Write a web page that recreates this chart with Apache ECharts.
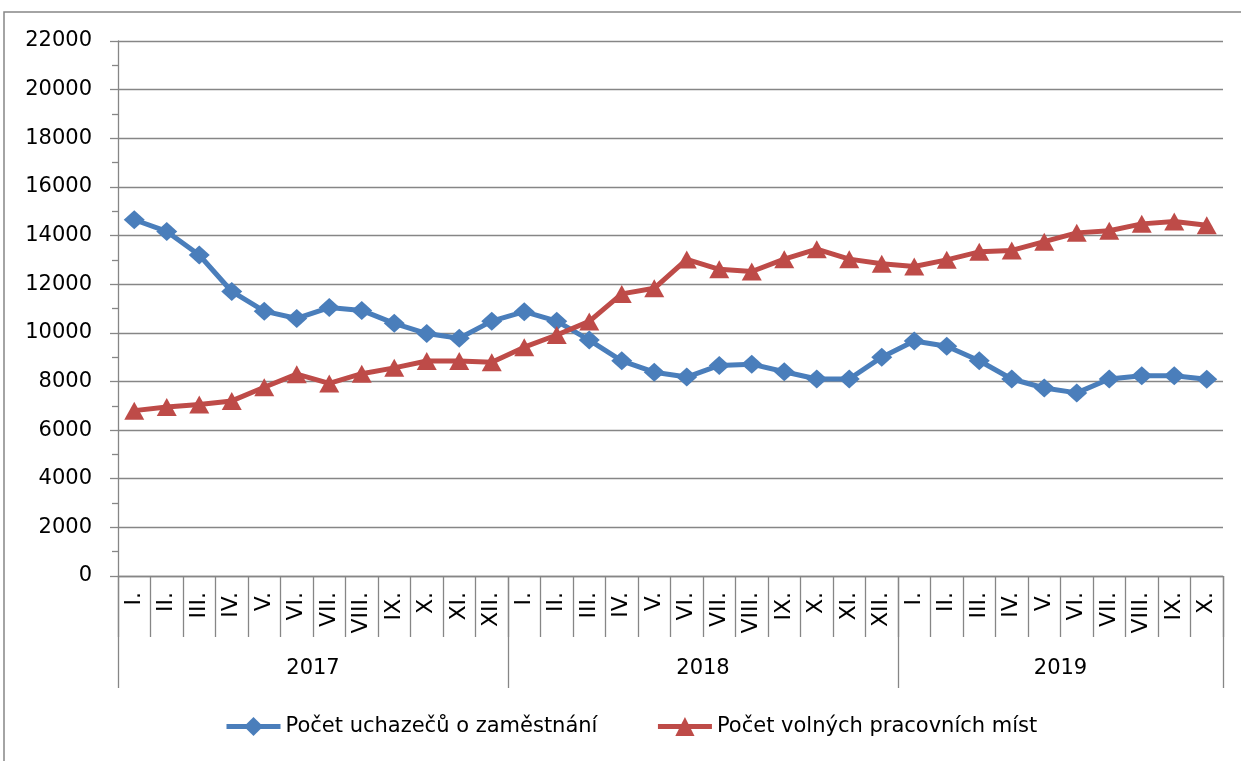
<!DOCTYPE html>
<html>
<head>
<meta charset="utf-8">
<script src="https://cdn.jsdelivr.net/npm/echarts@6/dist/echarts.min.js"></script>
<style>
  html, body { margin: 0; padding: 0; background: #fff; }
  #chart { width: 1241px; height: 761px; }
</style>
</head>
<body>
<div id="chart"></div>
<script>
// data
const years = ['2017', '2018', '2019'];
const monthsInYear = [12, 12, 10];
const romanMonths = ['I.', 'II.', 'III.', 'IV.', 'V.', 'VI.', 'VII.', 'VIII.', 'IX.', 'X.', 'XI.', 'XII.'];

const uchazeci = [
  14650, 14170, 13200, 11700, 10890, 10590, 11040, 10920, 10390, 9970, 9780, 10480,
  10870, 10480, 9700, 8850, 8380, 8180, 8660, 8710, 8400, 8100, 8100, 9000,
  9660, 9450, 8850, 8100, 7730, 7530, 8100, 8230, 8230, 8090
];
const volnaMista = [
  6800, 6950, 7050, 7200, 7760, 8300, 7920, 8320, 8560, 8840, 8840, 8790,
  9410, 9910, 10470, 11600, 11830, 13020, 12610, 12520, 13030, 13440, 13030, 12840,
  12730, 13000, 13330, 13390, 13750, 14110, 14200, 14480, 14580, 14420
];

// category list + where each year starts / its middle
let categories = [];
let yearStart = [];
let yearMid = {};
monthsInYear.forEach((n, y) => {
  yearStart.push(categories.length);
  // label sits at the boundary in the middle of the year span
  yearMid[categories.length + n / 2 - 1] = years[y];
  categories = categories.concat(romanMonths.slice(0, n));
});

const GRAY = '#868686';
const FONT = 'DejaVu Sans';

let myChart = echarts.init(document.getElementById('chart'));
let bandW = (1241 - 118 - 18) / categories.length;

let option = {
  backgroundColor: '#fff',
  animation: false,
  textStyle: { fontFamily: FONT, color: '#000' },
  graphic: [{
    type: 'rect',
    shape: { x: 4, y: 12, width: 1260, height: 800 },
    style: { fill: 'none', stroke: GRAY, lineWidth: 1.5 },
    silent: true
  }],
  grid: { left: 118, right: 18, top: 41, bottom: 185 },
  legend: {
    left: 219,
    top: 711,
    itemWidth: 54,
    itemHeight: 24,
    itemGap: 58,
    lineStyle: { width: 5 },
    textStyle: { fontFamily: FONT, fontSize: 21, color: '#000' },
    data: ['Počet uchazečů o zaměstnání', 'Počet volných pracovních míst']
  },
  xAxis: [
    {
      type: 'category',
      data: categories,
      position: 'bottom',
      boundaryGap: true,
      axisLine: { show: true, lineStyle: { color: GRAY, width: 1.3 } },
      axisTick: { show: true, interval: 0, length: 61, lineStyle: { color: GRAY, width: 1.3 } },
      axisLabel: {
        interval: 0,
        rotate: 90,
        margin: 16,
        fontFamily: FONT,
        fontSize: 22,
        color: '#000'
      }
    },
    {
      type: 'category',
      data: categories,
      position: 'bottom',
      boundaryGap: true,
      axisLine: { show: false },
      axisTick: {
        show: true,
        interval: (idx) => yearStart.indexOf(idx) >= 0,
        length: 112,
        lineStyle: { color: GRAY, width: 1.3 }
      },
      axisLabel: {
        interval: 0,
        margin: 82,
        padding: [0, 0, 0, bandW],
        fontFamily: FONT,
        fontSize: 21,
        color: '#000',
        formatter: (v, idx) => yearMid[idx] || ''
      }
    }
  ],
  yAxis: {
    type: 'value',
    min: 0,
    max: 22000,
    interval: 2000,
    axisLine: { show: true, lineStyle: { color: GRAY, width: 1.3 } },
    axisTick: { show: true, length: 8, lineStyle: { color: GRAY, width: 1.3 } },
    minorTick: { show: true, splitNumber: 2, length: 6, lineStyle: { color: GRAY, width: 1.3 } },
    splitLine: { lineStyle: { color: GRAY, width: 1.3 } },
    axisLabel: {
      margin: 26,
      fontFamily: FONT,
      fontSize: 21,
      color: '#000',
      formatter: (v) => String(v)
    }
  },
  series: [
    {
      name: 'Počet uchazečů o zaměstnání',
      type: 'line',
      xAxisIndex: 0,
      data: uchazeci,
      symbol: 'diamond',
      symbolSize: [21, 19],
      lineStyle: { color: '#4A7EBB', width: 5 },
      itemStyle: { color: '#4A7EBB' }
    },
    {
      name: 'Počet volných pracovních míst',
      type: 'line',
      xAxisIndex: 0,
      data: volnaMista,
      symbol: 'triangle',
      symbolSize: [20, 18],
      lineStyle: { color: '#BE4B48', width: 5 },
      itemStyle: { color: '#BE4B48' }
    }
  ]
};

myChart.setOption(option);
</script>
</body>
</html>
